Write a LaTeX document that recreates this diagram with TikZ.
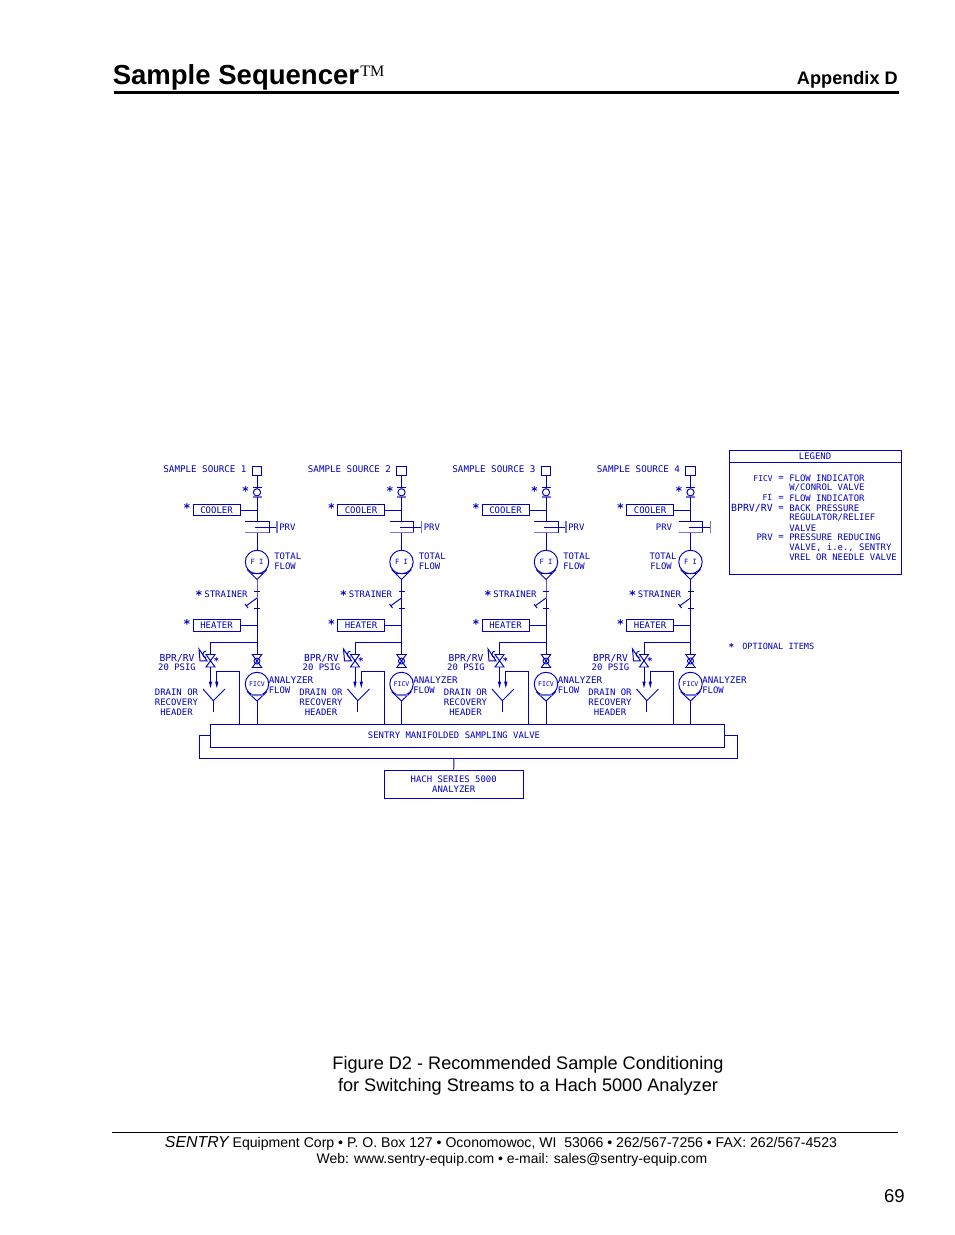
\documentclass[tikz,border=0pt]{standalone}
\usepackage{fontspec}
\setmainfont{Liberation Sans}
\newfontfamily\cadfont{DejaVu Sans Mono}
\newfontfamily\tmfont{Liberation Serif}
\definecolor{cad}{rgb}{0.0,0.0,0.74}
\definecolor{cadpale}{rgb}{0.45,0.45,0.87}
\tikzset{
 cadline/.style={draw=cad,line width=0.72pt},
 paleline/.style={draw=cadpale,line width=1.05pt},
 cadtext/.style={text=cad,inner sep=0pt,font=\cadfont\fontsize{6.7}{8}\selectfont},
 cadwide/.style={text=cad,inner sep=0pt,font=\cadfont\fontsize{7.2}{8}\selectfont},
 cadsmall/.style={text=cad,inner sep=0pt,font=\cadfont\fontsize{4.9}{6}\selectfont},
 cadstar/.style={text=cad,inner sep=0pt,font=\cadfont\bfseries\fontsize{9}{9}\selectfont},
 cadbox/.style={cadline,inner sep=0pt,minimum width=35.25pt,minimum height=8.6pt,text=cad,font=\cadfont\fontsize{6.7}{8}\selectfont},
 symcircle/.style={cadline,circle,inner sep=0pt,minimum size=17.6pt},
 pagetext/.style={inner sep=0pt,text=black},
}
\begin{document}
\begin{tikzpicture}[x=0.75pt,y=-0.75pt]
\useasboundingbox (0,0) rectangle (954,1235);
% header
\node[pagetext,anchor=base west,font=\bfseries\fontsize{20.65}{24}\selectfont] (title) at (112.5,84) {Sample Sequencer};
\node[pagetext,anchor=base west,font=\tmfont\fontsize{12}{14}\selectfont] (tm) at (360,76) {TM};
\node[pagetext,anchor=base east,font=\bfseries\fontsize{13.6}{16}\selectfont] (app) at (898,84) {Appendix D};
\coordinate (hl) at (114,92.5); \coordinate (hr) at (899,92.5);
\draw[black,line width=2.2pt] (hl) -- (hr);
% columns
\foreach \i/\dx in {1/0,2/144.5,3/289,4/433.5}{
\begin{scope}[shift={(\dx,0)}]
 \node[cadtext,anchor=east,font=\cadfont\fontsize{6.9}{8}\selectfont] (src\i) at (246.8,469.5) {SAMPLE SOURCE \i};
 \node[cadline,minimum size=7pt,inner sep=0pt] (sq\i) at (257,471) {};
 \coordinate (ft\i) at (257,487.5);
 \coordinate (fb\i) at (257,497);
 \node[cadline,circle,minimum size=5.4pt,inner sep=0pt] (fc\i) at (257,492.3) {};
 \draw[cadline] (252.5,487.5) -- (261.5,487.5);
 \draw[paleline] (252.5,497) -- (261.5,497);
 \node[cadstar] (s1\i) at (245.5,491.5) {*};
 \node[cadbox] (cool\i) at (216.5,510) {COOLER};
 \node[cadstar] (s2\i) at (187,508.5) {*};
 \coordinate (pt\i) at (257,521.5);
 \coordinate (pb\i) at (257,532.5);
 \draw[cadline] (sq\i) -- (ft\i);
 \draw[cadline] (fb\i) -- (pt\i);
 \draw[cadline] (cool\i.east) -- (cool\i.east -| pt\i);
 % pressure reducing valve
 \draw[cadline] (245,521.5) -- (269,521.5) -- (269,532.5);
 \draw[paleline] (245,532.5) -- (269,532.5);
 \draw[cadline] (255,527) -- (277,527);
 \draw[paleline] (277,521) -- (277,533);
 % flow indicator
 \node[symcircle] (fi\i) at (257,562) {};
 \node[cadsmall,font=\cadfont\fontsize{5.4}{6}\selectfont] (fit\i) at (257,562) {F I};
 \draw[cadline] (pb\i) -- (fi\i.north);
 \coordinate (fip\i) at (257,579.5);
 \draw[cadline] (247,569.5) -- (fip\i) -- (267,569.5);
 \draw[cadline] (251.5,573) -- (262.5,573);
 % strainer
 \coordinate (st\i) at (257,591);
 \coordinate (sb\i) at (257,608);
 \draw[cadline] (fip\i) -- (st\i) -- (sb\i);
 \draw[cadline] (254,591) -- (260,591);
 \draw[cadline] (254,608.5) -- (260,608.5);
 \draw[cadline] (257,598) -- (246,606);
 \draw[cadline] (245,604) -- (248,608);
 \node[cadtext] (str\i) at (226,594) {STRAINER};
 \node[cadstar] (s3\i) at (199,595.5) {*};
 % heater
 \node[cadbox] (heat\i) at (216.5,625.3) {HEATER};
 \node[cadstar] (s4\i) at (187,624) {*};
 \coordinate (hj\i) at (257,625.3);
 \draw[cadline] (sb\i) -- (257,654);
 \draw[cadline] (heat\i.east) -- (hj\i);
 % BPR valve
 \coordinate (bt\i) at (210.5,654.5);
 \coordinate (bm\i) at (210.5,660.8);
 \coordinate (bb\i) at (210.5,667);
 \coordinate (bj\i) at (257,642.5);
 \draw[cadline] (bj\i) -- (210.5,642.5) -- (bt\i);
 \draw[cadline] (206,654.5) -- (215,654.5) -- (206,667) -- (215,667) -- cycle;
 \draw[cadline] (199,649) -- (207,660.8) -- (200,661) -- cycle;
 \draw[cadline] (206,657.5) arc (90:270:3.2);
 \node[cadstar,font=\cadfont\bfseries\fontsize{7}{7}\selectfont] (s5\i) at (216.5,661.5) {*};
 \coordinate (a1\i) at (210.5,688);
 \coordinate (a2\i) at (216.8,688);
 \draw[cadline] (bb\i) -- (210.5,682);
 \fill[cad] (208.8,681.5) -- (212.2,681.5) -- (a1\i) -- cycle;
 \fill[cad] (215.1,681.5) -- (218.5,681.5) -- (a2\i) -- cycle;
 \coordinate (fy\i) at (213.3,700.7);
 \draw[cadline] (203,689) -- (fy\i) -- (225,689);
 \draw[cadline] (fy\i) -- (213.3,712);
 \node[cadwide] (bpr\i) at (177,658) {BPR/RV};
 \node[cadtext] (psi\i) at (177,667) {20 PSIG};
 \node[cadtext] (dr1\i) at (176.5,692) {DRAIN OR};
 \node[cadtext] (dr2\i) at (176.5,702) {RECOVERY};
 \node[cadtext] (dr3\i) at (176.5,712) {HEADER};
 % FICV
 \draw[cadline] (252.3,654.5) -- (261.7,654.5) -- (252.3,667.5) -- (261.7,667.5) -- cycle;
 \node[cadline,circle,minimum size=4.5pt,inner sep=0pt] (vc\i) at (257,661) {};
 \node[symcircle] (fv\i) at (257,684) {};
 \node[cadsmall] (fvt\i) at (257,684) {FICV};
 \coordinate (fvp\i) at (257,701);
 \draw[cadline] (247,691.5) -- (fvp\i) -- (267,691.5);
 \draw[paleline] (251,695) -- (263,695);
 \node[cadtext,anchor=west,font=\cadfont\fontsize{6.9}{8}\selectfont] (an\i) at (268.5,680) {ANALYZER};
 \node[cadtext,anchor=west] (fl\i) at (268.5,690) {FLOW};
 % analyzer flow return to manifold
 \coordinate (mv\i) at (257,724);
 \coordinate (rv\i) at (239.5,724);
 \draw[cadline] (fvp\i) -- (mv\i);
 \draw[cadline] (216.8,681.5) -- (216.8,671.7) -- (239.5,671.7) -- (rv\i);
\end{scope}
\ifnum\i=4
 \node[cadtext] (prv\i) at (664,527) {PRV};
 \node[cadtext] (to\i) at (663,556) {TOTAL};
 \node[cadtext] (fo\i) at (661,566) {FLOW};
\else
 \node[cadtext,anchor=west] (prv\i) at ({279+\dx},527) {PRV};
 \node[cadtext,anchor=west] (to\i) at ({274+\dx},556) {TOTAL};
 \node[cadtext,anchor=west] (fo\i) at ({274+\dx},566) {FLOW};
\fi
}
% manifold
\node[cadline,minimum width=386pt,minimum height=17.25pt,inner sep=0pt] (man) at (467.5,735.5) {};
\node[cadtext] (mant) at (454,735.5) {SENTRY MANIFOLDED SAMPLING VALVE};
\coordinate (ob) at (454,758);
\draw[cadline] (man.west) -- (199,735.5) -- (199,758) -- (737,758) -- (737,735.5) -- (man.east);
\node[cadline,minimum width=104.5pt,minimum height=21.3pt,inner sep=0pt,text=cad,align=center,font=\cadfont\fontsize{6.7}{7.5}\selectfont] (hach) at (453.7,784.3) {HACH SERIES 5000\\ANALYZER};
\draw[cadline] (ob) -- (hach.north);
% legend
\node[cadline,minimum width=129pt,minimum height=93pt,inner sep=0pt] (leg) at (815.2,512.3) {};
\coordinate (ll) at (729.2,462); \coordinate (lr) at (901.2,462);
\draw[cadline] (ll) -- (lr);
\node[cadtext] (legt) at (815,456.3) {LEGEND};
\node[cadtext,anchor=east,font=\cadfont\fontsize{6}{8}\selectfont] (k1) at (773,478.2) {FICV};
\node[cadtext,anchor=east,font=\cadfont\fontsize{6}{8}\selectfont] (k2) at (772.5,498) {FI};
\node[cadtext,anchor=east,font=\cadfont\fontsize{7.4}{8}\selectfont] (k3) at (773,508) {BPRV/RV};
\node[cadtext,anchor=east] (k4) at (773,537.7) {PRV};
\node[cadtext] (e1) at (781,478.2) {=};
\node[cadtext] (e2) at (781,498) {=};
\node[cadtext] (e3) at (781,508) {=};
\node[cadtext] (e4) at (781,537.7) {=};
\node[cadtext,anchor=west] (v1) at (789,478.2) {FLOW INDICATOR};
\node[cadtext,anchor=west] (v2) at (789,488) {W/CONROL VALVE};
\node[cadtext,anchor=west] (v3) at (789,498) {FLOW INDICATOR};
\node[cadtext,anchor=west] (v4) at (789,508) {BACK PRESSURE};
\node[cadtext,anchor=west] (v5) at (789,518) {REGULATOR/RELIEF};
\node[cadtext,anchor=west] (v6) at (789,527.8) {VALVE};
\node[cadtext,anchor=west] (v7) at (789,537.7) {PRESSURE REDUCING};
\node[cadtext,anchor=west] (v8) at (789,547.5) {VALVE, i.e., SENTRY};
\node[cadtext,anchor=west] (v9) at (789,557.5) {VREL OR NEEDLE VALVE};
\node[cadstar,font=\cadfont\bfseries\fontsize{7}{7}\selectfont] (ostar) at (731.5,647) {*};
\node[cadtext,anchor=west,font=\cadfont\fontsize{6.4}{8}\selectfont] (opt) at (742,646) {OPTIONAL ITEMS};
% caption
\node[pagetext,align=center,font=\fontsize{13.6}{16.5}\selectfont] (cap) at (528,1075.5) {Figure D2 - Recommended Sample Conditioning\\for Switching Streams to a Hach 5000 Analyzer};
% footer
\coordinate (fl) at (112,1132.5); \coordinate (fr) at (898,1132.5);
\draw[black,line width=0.55pt] (fl) -- (fr);
\node[pagetext,anchor=base,font=\fontsize{10.55}{13}\selectfont] (f1) at (501,1147) {{\itshape\fontsize{11.9}{13}\selectfont SENTRY} Equipment Corp • P. O. Box 127 • Oconomowoc, WI\ \ 53066 • 262/567-7256 • FAX: 262/567-4523};
\node[pagetext,anchor=base,font=\fontsize{10.45}{13}\selectfont] (f2) at (512,1163) {Web: www.sentry-equip.com • e-mail: sales@sentry-equip.com};
\node[pagetext,anchor=base east,font=\fontsize{13.9}{16}\selectfont] (pg) at (905,1202) {69};
\end{tikzpicture}
\end{document}
